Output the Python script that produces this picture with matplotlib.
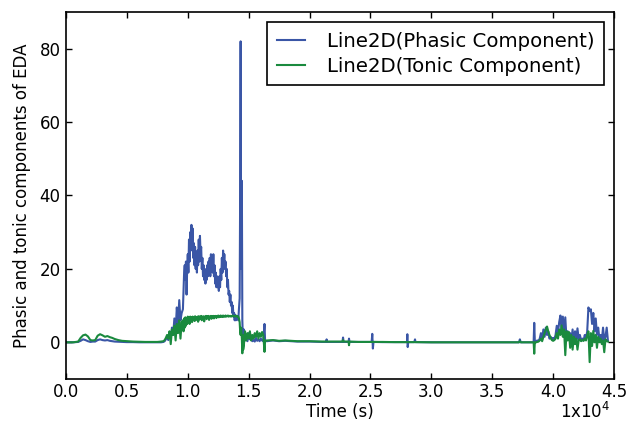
import matplotlib
matplotlib.use("Agg")
import matplotlib.pyplot as plt
from matplotlib.ticker import FuncFormatter

# ---------------- data ----------------
# quiet start
time_a = [0, 600, 1000, 1200, 1400, 1600, 1800, 2000, 2200, 2400,
          2600, 2800, 3000, 3200, 3400, 3600, 3800, 4000, 4300, 4600,
          5000, 5500, 6000, 6500, 7000, 7500, 7800]
phasic_a = [0, 0, 0.1, 0.4, 0.8, 0.6, 0.3, 0.1, 0.2, 0.2,
            0.6, 0.8, 0.6, 0.5, 0.6, 0.4, 0.3, 0.2, 0.15, 0.1,
            0.05, 0.05, 0, 0, 0, 0, 0]
tonic_a = [0, 0, 0.2, 1.2, 1.9, 2.1, 1.6, 0.6, 0.5, 0.6,
           1.8, 2.2, 1.9, 1.5, 1.7, 1.4, 1.2, 0.9, 0.6, 0.4,
           0.3, 0.2, 0.15, 0.1, 0.1, 0.1, 0.2]

# rise
time_b = [8000, 8100, 8200, 8300, 8400, 8500, 8600, 8700, 8800, 8900,
          9000, 9100, 9200, 9300, 9400, 9500]
phasic_b = [0.1, 0.3, 0.8, 1.5, 0.6, 2.5, 1.0, 4.0, 2.0, 6.5,
            3.0, 9.5, 5.0, 11.5, 6.0, 8.0]
tonic_b = [0.3, 0.6, 1.2, 2.0, 1.0, 3.0, -0.5, 3.5, 2.0, 4.5,
           0.5, 5.0, 2.5, 6.0, 1.0, 5.5]

# active plateau
time_c = [9600, 9650, 9700, 9750, 9800, 9850, 9900, 9950, 10000, 10050,
          10100, 10150, 10200, 10250, 10300, 10350, 10400, 10450, 10500, 10550,
          10600, 10650, 10700, 10750, 10800, 10850, 10900, 10950, 11000, 11050,
          11100, 11150, 11200, 11250, 11300, 11350, 11400, 11450, 11500, 11550,
          11600, 11650, 11700, 11750, 11800, 11850, 11900, 11950, 12000, 12050,
          12100, 12150, 12200, 12250, 12300, 12350, 12400, 12450, 12500, 12550,
          12600, 12650, 12700, 12750, 12800, 12850, 12900, 12950, 13000, 13050,
          13100, 13150, 13200, 13250, 13300, 13350, 13400, 13450, 13500, 13550,
          13600, 13650, 13700, 13750, 13800, 13850, 13900, 13950, 14000, 14050,
          14100]
phasic_c = [9, 14, 19, 21, 17, 22, 13, 20, 24, 19,
            28, 22, 30, 25, 32, 26, 31, 23, 27, 21,
            26, 20, 24, 19, 25, 21, 28, 22, 29, 24,
            26, 20, 23, 18, 21, 17, 20, 16, 19, 17,
            21, 18, 22, 19, 23, 18, 24, 20, 23, 19,
            24, 18, 21, 16, 19, 15, 18, 15, 17, 14,
            18, 15, 20, 17, 23, 19, 25, 21, 24, 20,
            22, 18, 20, 15, 17, 13, 14, 11, 13, 10,
            11, 8, 10, 7, 8, 6, 7.5, 6, 7, 6.5,
            7]
tonic_c = [6.0, 3.0, 6.5, 4.0, 6.8, 4.5, 6.2, 5.0, 7.0, 5.5,
           6.8, 5.0, 7.0, 6.0, 6.8, 5.5, 7.0, 6.2, 6.9, 5.8,
           7.1, 6.0, 6.9, 6.3, 7.0, 5.6, 7.1, 6.2, 7.0, 6.4,
           7.2, 6.0, 7.0, 6.5, 7.1, 5.7, 7.0, 6.6, 7.2, 6.3,
           7.1, 6.6, 7.2, 6.1, 7.0, 6.7, 7.2, 6.4, 7.1, 6.8,
           7.2, 6.5, 7.1, 6.9, 7.2, 6.6, 7.1, 6.9, 7.3, 6.8,
           7.2, 6.9, 7.3, 7.0, 7.2, 6.9, 7.3, 7.0, 7.2, 7.0,
           7.3, 7.0, 7.2, 7.1, 7.3, 7.0, 7.2, 7.1, 7.2, 7.0,
           7.2, 7.1, 7.3, 7.1, 7.2, 7.0, 7.2, 7.1, 7.2, 7.0,
           7.1]

# spike
time_d = [14150, 14200, 14260, 14300, 14340, 14380, 14440, 14480, 14520, 14550]
phasic_d = [6, 9, 12, 40, 82, 20, 44, 6, 1.5, 1.0]
tonic_d = [7.0, 6.5, 5.5, 3.0, 2.0, 4.0, 1.0, -3.0, 2.0, -2.0]

# after the spike
time_e = [14600, 14700, 14800, 14900, 15000, 15100, 15200, 15300, 15400, 15500,
          15600, 15700, 15800, 15900, 16000, 16100, 16200, 16300, 16350, 16400,
          16500]
phasic_e = [3.5, 0.5, 2.0, 0.3, 2.5, 0.8, 1.5, 0.3, 0.6, 0.2,
            1.2, 0.4, 0.8, 0.3, 1.0, 0.5, 0.3, 5.0, 0.2, 0.4,
            0.3]
tonic_e = [-1.0, 3.0, 0.5, 2.5, 1.0, 3.0, 0.5, 2.0, 1.0, 2.5,
           1.5, 3.0, 1.0, 2.5, 1.5, 2.8, 2.0, -2.6, 0.5, 0.4,
           0.5]

# long quiet stretch
time_f = [17000, 17500, 18000, 19000, 20000, 21000, 21350, 21400, 21450, 22000,
          22700, 22750, 22800, 23200, 23240, 23280, 24000, 25100, 25150, 25200,
          25250, 26000, 27000, 28000, 28030, 28060, 28100, 28600, 28660, 28700,
          30000, 32000, 34000, 36000, 37200, 37270, 37340, 38000, 38400, 38450]
phasic_f = [0.5, 0.3, 0.4, 0.2, 0.2, 0.1, 0.1, 0.8, 0.1, 0.1,
            0.1, 1.3, 0.1, 0.1, 1.0, 0.1, 0.1, 0.1, 2.3, -1.7,
            0.1, 0.05, 0.05, 0.05, 2.2, -1.3, 0.05, 0.05, 0.8, 0.05,
            0, 0, 0, 0, 0, 0.8, 0, 0, 0, 5.3]
tonic_f = [0.6, 0.4, 0.5, 0.3, 0.3, 0.2, 0.2, 0.2, 0.2, 0.2,
           0.2, 0.6, 0.2, 0.2, -0.8, 0.2, 0.1, 0.1, 0.1, 0.1,
           0.1, 0.1, 0.05, 0.05, 0.05, 0.05, 0.05, 0.05, 0.05, 0.05,
           0, 0, 0, 0, 0, 0.3, 0, 0, 0, -3.1]

# late activity
time_g = [38500, 38600, 38700, 38800, 38900, 39000, 39100, 39200, 39300, 39400,
          39500, 39600, 39700, 39800, 39900, 40000, 40100, 40200, 40300, 40400,
          40500, 40600, 40700, 40800, 40900, 41000, 41100, 41200, 41300, 41400,
          41500, 41600, 41700, 41800, 41900, 42000, 42100, 42200, 42300, 42400,
          42500, 42600, 42700, 42800, 42900, 43000, 43100, 43200, 43300, 43400,
          43500, 43600, 43700, 43800, 43900, 44000, 44100, 44200, 44300, 44400,
          44500]
phasic_g = [0.2, 0.3, 0.5, 0.3, 1.0, 2.5, 0.8, 3.5, 1.5, 4.0,
            2.0, 3.0, 1.0, 1.5, 0.8, 1.2, 0.8, 2.0, 4.5, 2.5,
            5.5, 7.3, 3.0, 7.0, 2.0, 6.8, 1.0, 3.0, 1.0, 2.5,
            0.5, 3.5, -0.5, 3.0, 0.3, 3.8, 0.8, 2.0, 0.5, 1.0,
            0.5, 2.0, 1.0, 3.0, 9.5, 8.5, 9.0, 5.0, 8.0, 3.0,
            6.5, 2.0, 4.0, 1.0, 2.0, 0.5, 4.0, 0.5, 1.5, 4.0,
            0.5]
tonic_g = [0, 0, 0.1, 0.2, 0.5, 1.0, 0.3, 1.5, 2.5, 3.5,
           4.3, 3.0, 2.0, 1.2, 0.6, 0.4, 0.6, 1.0, 2.5, 1.0,
           3.5, 2.0, 4.6, 1.5, 3.5, -3.5, 3.0, 0.5, 2.8, -1.5,
           2.0, -2.0, 1.5, -0.5, 1.0, -2.0, 0.5, 0.8, 0.3, 0.6,
           0.4, 1.0, 0.5, 2.0, 3.0, -5.4, 2.5, -1.0, 3.1, 0.0,
           2.0, -1.5, 1.5, 0.0, 1.0, -0.5, 0.5, -2.7, 0.8, 0.3,
           0.2]

time_s = time_a + time_b + time_c + time_d + time_e + time_f + time_g
phasic = phasic_a + phasic_b + phasic_c + phasic_d + phasic_e + phasic_f + phasic_g
tonic = tonic_a + tonic_b + tonic_c + tonic_d + tonic_e + tonic_f + tonic_g

x_ticks = [0, 5000, 10000, 15000, 20000, 25000, 30000, 35000, 40000, 45000]
y_ticks = [0, 20, 40, 60, 80]

# ---------------- drawing ----------------
plt.rcParams["font.family"] = "DejaVu Sans"
fig = plt.figure(figsize=(6.27, 4.25), dpi=100, facecolor="white")
ax = fig.add_axes([66 / 627, 1 - 379 / 425, 548 / 627, 367 / 425])

blue = "#3a56a6"
green = "#1a8a3e"
ax.plot(time_s, phasic, color=blue, lw=1.5, label="Line2D(Phasic Component)")
ax.plot(time_s, tonic, color=green, lw=1.5, label="Line2D(Tonic Component)")

ax.set_xlim(0, 45000)
ax.set_ylim(-10, 90)
ax.set_xticks(x_ticks)
ax.set_yticks(y_ticks)
ax.xaxis.set_major_formatter(FuncFormatter(lambda v, p: f"{v / 1e4:.1f}"))
ax.tick_params(direction="in", top=True, right=True, length=4.5, width=1,
               labelsize=12, colors="black")
ax.tick_params(axis="x", pad=3)
ax.tick_params(axis="y", pad=4)
for s in ax.spines.values():
    s.set_linewidth(1.2)
    s.set_color("black")

ax.set_xlabel("Time (s)", fontsize=12)
ax.set_ylabel("Phasic and tonic components of EDA", fontsize=12)
ax.xaxis.set_label_coords(0.5, (379 - 403) / 367)
ax.yaxis.set_label_coords((31 - 66) / 548, 0.5)
fig.text(610 / 627, 1 - 418 / 425, "1x10$^{4}$", ha="right", va="baseline", fontsize=12)

leg = ax.legend(loc="upper right", fontsize=14.2, fancybox=False, framealpha=1,
                edgecolor="black", handlelength=1.4, handletextpad=1.1,
                borderaxespad=0.5, borderpad=0.5, labelspacing=0.3)
leg.get_frame().set_linewidth(1.2)

fig.savefig("out.png", dpi=100, facecolor="white")
